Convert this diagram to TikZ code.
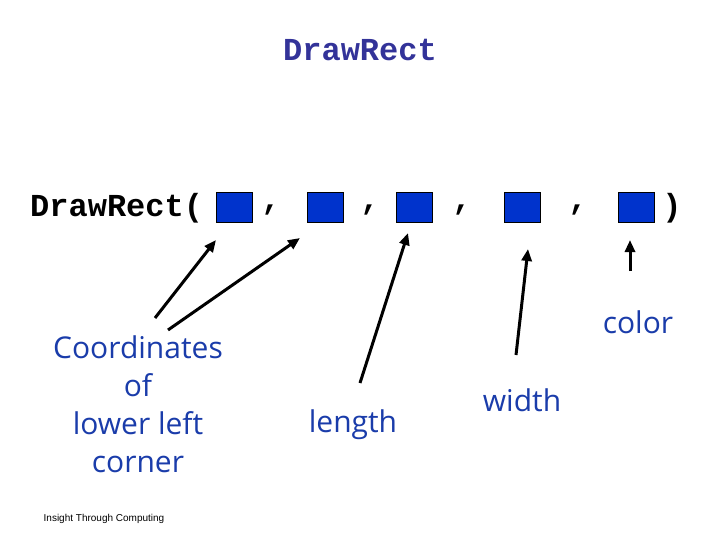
\documentclass[tikz,border=0pt]{standalone}
\usepackage{fontspec}
\setmainfont{Open Sans}
\newfontfamily\codefont{Liberation Mono}
\newfontfamily\smallfont{Liberation Sans}
\usetikzlibrary{arrows.meta, positioning}

\definecolor{titlenavy}{HTML}{333399}
\definecolor{labelblue}{HTML}{1A3CAA}
\definecolor{boxblue}{HTML}{0033CC}

\begin{document}
\begin{tikzpicture}[
    x=1pt, y=-1pt,
    code/.style={font=\codefont\bfseries\fontsize{32}{36}\selectfont, inner sep=0pt},
    slot/.style={draw=black, line width=0.8pt, fill=boxblue,
                 minimum width=36pt, minimum height=30pt, inner sep=0pt},
    lbl/.style={text=labelblue, font=\fontsize{30}{38}\selectfont, align=center, inner sep=0pt},
    arr/.style={-{Triangle[length=12pt, width=10pt]}, line width=3pt}
]
\useasboundingbox (0,0) rectangle (720,540);

%% ---- title ------------------------------------------------------
\node[code, text=titlenavy] (title) at (360,50) {DrawRect};

%% ---- call with its five slots -----------------------------------
\node[code, anchor=west] (call) at (30,208) {DrawRect(};
\node[slot] (sx)  at (234,207) {};
\node[slot] (sy)  at (325,207) {};
\node[slot] (sl)  at (414,207) {};
\node[slot] (sw)  at (522,207) {};
\node[slot] (sc)  at (636,207) {};
\node[code] (c1) at (271,210) {,};
\node[code] (c2) at (370,210) {,};
\node[code] (c3) at (462,210) {,};
\node[code] (c4) at (578,210) {,};
\node[code] (close) at (672,208) {)};

%% ---- labels -----------------------------------------------------
\node[lbl] (coord)  at (138,404) {Coordinates\\of\\lower left\\corner};
\node[lbl] (length) at (353,425) {length};
\node[lbl] (width)  at (522,400) {width};
\node[lbl] (color)  at (638,322) {color};

\node[font=\smallfont\fontsize{10}{12}\selectfont, inner sep=0pt] (credit) at (104,519) {Insight Through Computing};

%% ---- arrows -----------------------------------------------------
\coordinate (tx)  at (216,240);
\coordinate (ty)  at (300,238);
\coordinate (tl)  at (408,233);
\coordinate (tw)  at (528,249);
\coordinate (tc)  at (630,240);
\coordinate (fx)  at (155,318);
\coordinate (fy)  at (168,330);
\coordinate (fl)  at (360,383);
\coordinate (fw)  at (516,355);
\coordinate (fc)  at (630,271);

\draw[arr] (fx) -- (tx);
\draw[arr] (fy) -- (ty);
\draw[arr] (fl) -- (tl);
\draw[arr] (fw) -- (tw);
\draw[arr] (fc) -- (tc);

\end{tikzpicture}
\end{document}
